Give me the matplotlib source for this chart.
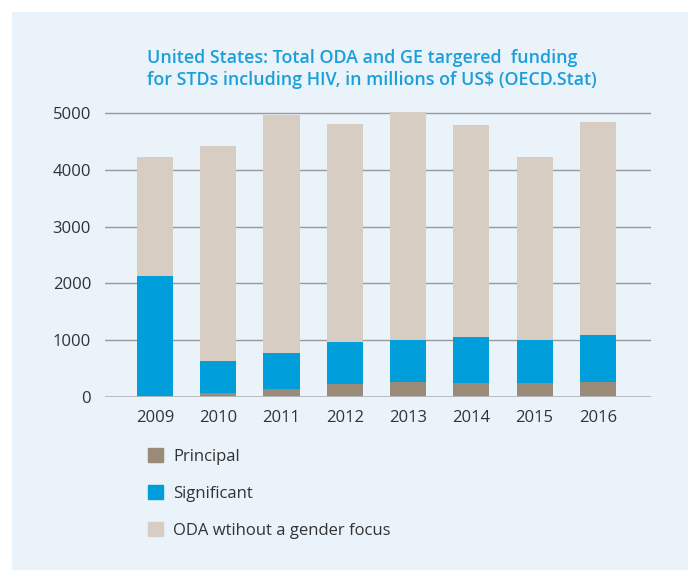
import matplotlib.pyplot as plt
from matplotlib.patches import Patch, Rectangle
import numpy as np

plt.rcParams['font.family'] = ['Open Sans', 'DejaVu Sans']

years = ["2009", "2010", "2011", "2012", "2013", "2014", "2015", "2016"]
principal = [5, 65, 135, 230, 265, 240, 240, 265]
significant = [2125, 562, 632, 730, 730, 825, 755, 835]
oda_no_gender = [2095, 3790, 4195, 3845, 4020, 3720, 3230, 3740]

c_principal = "#9a8a78"
c_significant = "#009fdb"
c_oda = "#d7cdc3"
bg = "#eaf2fa"
title_col = "#1a9fdb"
text_col = "#333333"

fig = plt.figure(figsize=(6.88, 5.70), dpi=100)
fig.patches.append(Rectangle((12 / 688, 0), 1, 1 - 12 / 570, transform=fig.transFigure,
                             facecolor=bg, edgecolor="none", zorder=-10))

ax = fig.add_axes([105 / 688, 1 - 397 / 570, 546 / 688, (397 - 107.3) / 570])
ax.set_facecolor("none")

x = np.arange(len(years))
w = 0.57
p = np.array(principal)
s = np.array(significant)
o = np.array(oda_no_gender)
ax.bar(x, p, w, color=c_principal, zorder=3, label="Principal")
ax.bar(x, s, w, bottom=p, color=c_significant, zorder=3, label="Significant")
ax.bar(x, o, w, bottom=p + s, color=c_oda, zorder=3, label="ODA wtihout a gender focus")

ax.set_xlim(-0.79, 7.84)
ax.set_ylim(0, 5100)
ax.set_yticks([0, 1000, 2000, 3000, 4000, 5000])
ax.set_xticks(x)
ax.set_xticklabels(years)
ax.tick_params(axis="both", length=0, labelsize=12, colors=text_col)
ax.tick_params(axis="x", pad=9)
ax.tick_params(axis="y", pad=10)
ax.yaxis.grid(True, color="#9a9a9a", linewidth=1.0, zorder=1)
ax.axhline(0, color="#b5b8bc", linewidth=2, zorder=4)
for sp in ax.spines.values():
    sp.set_visible(False)

fig.text(147 / 688, 1 - 69 / 570,
         "United States: Total ODA and GE targered  funding\nfor STDs including HIV, in millions of US$ (OECD.Stat)",
         ha="left", va="center", multialignment="left", color=title_col, fontsize=12.85,
         fontweight="semibold", linespacing=1.3)

handles = [Patch(color=c_principal), Patch(color=c_significant), Patch(color=c_oda)]
labels = ["Principal", "Significant", "ODA wtihout a gender focus"]
fig.legend(handles, labels, loc="upper left", bbox_to_anchor=(133 / 688, 1 - 433 / 570),
           frameon=False, fontsize=12, handlelength=0.9, handleheight=0.9,
           labelspacing=1.22, handletextpad=0.6, labelcolor=text_col)

fig.savefig("out.png", dpi=100, facecolor="white")
